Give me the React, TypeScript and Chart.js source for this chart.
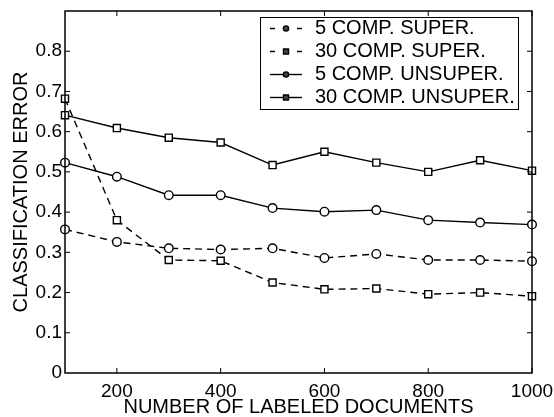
import React, { useEffect, useRef } from "react";
import { Chart, registerables } from "chart.js";

Chart.register(...registerables);

const docs = [100, 200, 300, 400, 500, 600, 700, 800, 900, 1000];
const super5 = [0.357, 0.326, 0.31, 0.307, 0.31, 0.286, 0.296, 0.281, 0.281, 0.278];
const super30 = [0.682, 0.38, 0.281, 0.279, 0.225, 0.208, 0.21, 0.196, 0.2, 0.191];
const unsuper5 = [0.523, 0.488, 0.442, 0.442, 0.41, 0.401, 0.405, 0.38, 0.374, 0.369];
const unsuper30 = [0.641, 0.609, 0.585, 0.573, 0.517, 0.55, 0.523, 0.5, 0.529, 0.503];

const seriesLabels = ["5 COMP. SUPER.", "30 COMP. SUPER.", "5 COMP. UNSUPER.", "30 COMP. UNSUPER."];
const xTicks = [200, 400, 600, 800, 1000];
const yTicks = [0, 0.1, 0.2, 0.3, 0.4, 0.5, 0.6, 0.7, 0.8];

const FONT = "'Liberation Sans', Arial, Helvetica, sans-serif";
const DASH = [7, 5];

function makeDataset(label: string, values: number[], dashed: boolean, style: string) {
  return {
    label,
    data: docs.map((d, i) => ({ x: d, y: values[i] })),
    borderColor: "#000",
    backgroundColor: "#fff",
    borderWidth: 1.4,
    borderDash: dashed ? DASH : [],
    pointStyle: style,
    pointRadius: style === "rect" ? 5 : 4.3,
    pointBorderWidth: 1.4,
    pointBorderColor: "#000",
    pointBackgroundColor: "#fff",
    tension: 0,
    clip: false as any,
  };
}

const framePlugin = {
  id: "frame",
  afterDatasetsDraw(chart: any) {
    const { ctx, chartArea, scales } = chart;
    const { left, right, top, bottom } = chartArea;
    ctx.save();
    ctx.strokeStyle = "#000";
    ctx.lineWidth = 1.5;
    ctx.setLineDash([]);
    ctx.strokeRect(left, top, right - left, bottom - top);
    const tl = 5;
    ctx.lineWidth = 1;
    ctx.beginPath();
    xTicks.forEach((v) => {
      const px = scales.x.getPixelForValue(v);
      ctx.moveTo(px, bottom);
      ctx.lineTo(px, bottom - tl);
      ctx.moveTo(px, top);
      ctx.lineTo(px, top + tl);
    });
    yTicks.forEach((v) => {
      if (v === 0) return;
      const py = scales.y.getPixelForValue(v);
      ctx.moveTo(left, py);
      ctx.lineTo(left + tl, py);
      ctx.moveTo(right, py);
      ctx.lineTo(right - tl, py);
    });
    ctx.stroke();

    // legend
    const bw = 258;
    const bh = 92;
    const bx = right - bw - 14;
    const by = top + 6;
    ctx.fillStyle = "#fff";
    ctx.fillRect(bx, by, bw, bh);
    ctx.lineWidth = 1;
    ctx.strokeRect(bx + 0.5, by + 0.5, bw, bh);
    chart.data.datasets.forEach((ds: any, i: number) => {
      const cy = by + 11.5 + i * 23;
      const x0 = bx + 10;
      const x1 = bx + 42;
      const mx = (x0 + x1) / 2;
      ctx.lineWidth = 1.4;
      ctx.setLineDash([]);
      ctx.beginPath();
      if (ds.borderDash && ds.borderDash.length) {
        ctx.moveTo(x0, cy);
        ctx.lineTo(x0 + 5, cy);
        ctx.moveTo(x1 - 5, cy);
        ctx.lineTo(x1, cy);
      } else {
        ctx.moveTo(x0, cy);
        ctx.lineTo(x1, cy);
      }
      ctx.stroke();
      ctx.fillStyle = "#444";
      ctx.beginPath();
      if (ds.pointStyle === "rect") {
        ctx.rect(mx - 2.5, cy - 2.5, 5, 5);
      } else {
        ctx.arc(mx, cy, 2.6, 0, Math.PI * 2);
      }
      ctx.fill();
      ctx.stroke();
      ctx.fillStyle = "#000";
      ctx.font = `20px ${FONT}`;
      ctx.textBaseline = "middle";
      ctx.textAlign = "left";
      ctx.fillText(ds.label, bx + 55, cy);
    });
    ctx.restore();
  },
};

export default function App() {
  const canvasRef = useRef<HTMLCanvasElement | null>(null);

  useEffect(() => {
    if (!canvasRef.current) return;
    const chart = new Chart(canvasRef.current, {
      type: "line",
      data: {
        datasets: [
          makeDataset(seriesLabels[0], super5, true, "circle"),
          makeDataset(seriesLabels[1], super30, true, "rect"),
          makeDataset(seriesLabels[2], unsuper5, false, "circle"),
          makeDataset(seriesLabels[3], unsuper30, false, "rect"),
        ] as any,
      },
      options: {
        responsive: false,
        animation: false,
        devicePixelRatio: 1,
        layout: { padding: { left: 0, top: 11, right: 22, bottom: 0 } },
        plugins: {
          legend: { display: false },
          tooltip: { enabled: false },
        },
        scales: {
          x: {
            type: "linear",
            min: 100,
            max: 1000,
            grid: { display: false, drawTicks: false },
            border: { display: false },
            afterBuildTicks: (scale: any) => {
              scale.ticks = xTicks.map((v) => ({ value: v }));
            },
            afterFit: (scale: any) => {
              scale.height = 44;
              scale.paddingLeft = 0;
              scale.paddingRight = 0;
            },
            ticks: {
              color: "#000",
              padding: 7,
              maxRotation: 0,
              autoSkip: false,
              font: { family: FONT, size: 19 },
              callback: (v: any) => String(v),
            },
            title: {
              display: true,
              text: "NUMBER OF LABELED DOCUMENTS",
              color: "#000",
              font: { family: FONT, size: 20, lineHeight: 1 },
              padding: { top: 0, bottom: 0 },
            },
          },
          y: {
            type: "linear",
            min: 0,
            max: 0.9,
            grid: { display: false, drawTicks: false },
            border: { display: false },
            afterBuildTicks: (scale: any) => {
              scale.ticks = yTicks.map((v) => ({ value: v }));
            },
            afterFit: (scale: any) => {
              scale.width = 65;
              scale.paddingTop = 0;
              scale.paddingBottom = 0;
            },
            ticks: {
              color: "#000",
              padding: 3,
              autoSkip: false,
              font: { family: FONT, size: 19 },
              callback: (v: any) => String(v),
            },
            title: {
              display: true,
              text: "CLASSIFICATION ERROR",
              color: "#000",
              font: { family: FONT, size: 20, lineHeight: 1 },
              padding: { top: 11, bottom: 0 },
            },
          },
        },
      } as any,
      plugins: [framePlugin],
    });
    return () => chart.destroy();
  }, []);

  return (
    <div style={{ position: "absolute", left: 0, top: 0, width: 554, height: 417, background: "#fff" }}>
      <canvas ref={canvasRef} width={554} height={417} style={{ display: "block" }} />
    </div>
  );
}
